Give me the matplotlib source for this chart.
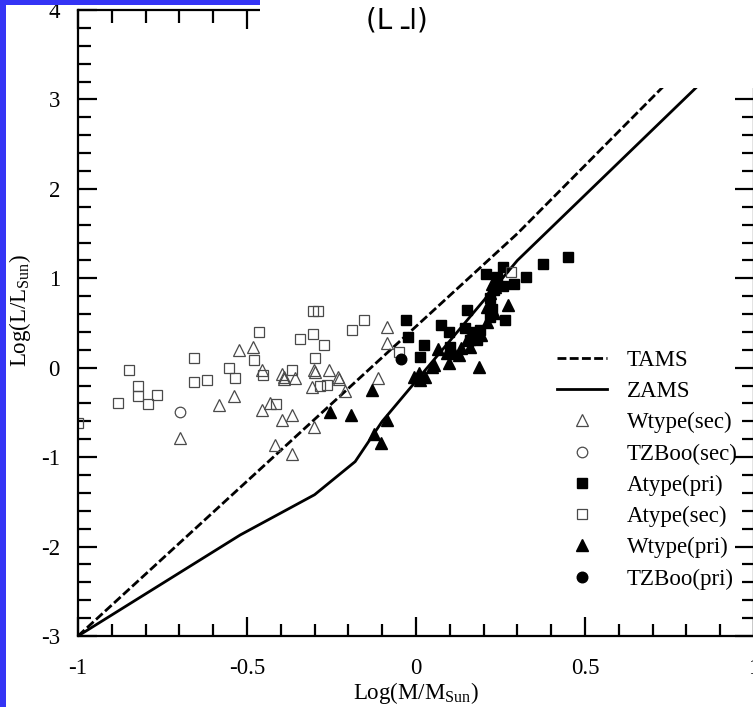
import matplotlib
matplotlib.use("Agg")
import matplotlib.pyplot as plt
from matplotlib.patches import Rectangle
from matplotlib.ticker import MultipleLocator

plt.rcParams['font.family'] = ['Liberation Serif', 'DejaVu Serif']
plt.rcParams['mathtext.fontset'] = 'custom'
plt.rcParams['mathtext.rm'] = 'Liberation Serif'

# evolutionary tracks
tams_x = [-1.0, 0.30, 0.72, 1.0]
tams_y = [-3.0, 1.50, 3.10, 4.16]
zams_x = [-1.0, -0.52, -0.30, -0.18, -0.10, 0.30, 0.82, 1.0]
zams_y = [-3.0, -1.87, -1.42, -1.05, -0.60, 1.20, 3.10, 3.77]

# Wtype secondaries
wsec_x = [-0.699, -0.582, -0.539, -0.523, -0.483, -0.457, -0.455, -0.433, -0.396, -0.391,
          -0.391, -0.395, -0.366, -0.418, -0.368, -0.357, -0.302, -0.299, -0.307, -0.302,
          -0.256, -0.231, -0.228, -0.209, -0.112, -0.087, -0.087]
wsec_y = [-0.79, -0.42, -0.32, 0.20, 0.23, -0.03, -0.47, -0.39, -0.07, -0.10,
          -0.13, -0.58, -0.53, -0.86, -0.97, -0.12, -0.02, -0.05, -0.22, -0.66,
          -0.03, -0.10, -0.13, -0.26, -0.12, 0.45, 0.28]

# TZBoo secondary
tzsec_x = [-0.699]
tzsec_y = [-0.49]

# Atype primaries
apri_x = [-0.031, -0.024, 0.011, 0.023, 0.075, 0.097, 0.102, 0.146, 0.151, 0.161,
          0.181, 0.170, 0.190, 0.208, 0.220, 0.220, 0.225, 0.230, 0.240, 0.257,
          0.257, 0.263, 0.291, 0.324, 0.376, 0.451]
apri_y = [0.53, 0.34, 0.12, 0.25, 0.48, 0.40, 0.23, 0.44, 0.65, 0.31,
          0.31, 0.40, 0.42, 1.05, 0.57, 0.78, 0.66, 0.87, 1.01, 0.91,
          1.13, 0.53, 0.94, 1.01, 1.16, 1.24]

# Atype secondaries
asec_x = [-1.0, -0.882, -0.850, -0.822, -0.822, -0.794, -0.767, -0.656, -0.656, -0.618,
          -0.553, -0.536, -0.480, -0.465, -0.453, -0.415, -0.366, -0.342, -0.304, -0.299,
          -0.305, -0.290, -0.273, -0.283, -0.263, -0.189, -0.154, -0.051, 0.280]
asec_y = [-0.62, -0.39, -0.02, -0.20, -0.32, -0.41, -0.31, 0.11, -0.16, -0.14,
          0.00, -0.12, 0.09, 0.40, -0.08, -0.41, -0.02, 0.32, 0.38, 0.11,
          0.63, 0.63, 0.25, -0.20, -0.19, 0.42, 0.53, 0.18, 1.07]

# Wtype primaries
wpri_x = [-0.253, -0.192, -0.131, -0.087, -0.125, -0.104, -0.007, 0.008, 0.013, 0.028,
          0.048, 0.053, 0.066, 0.092, 0.097, 0.112, 0.127, 0.132, 0.151, 0.161,
          0.171, 0.186, 0.193, 0.211, 0.211, 0.220, 0.225, 0.230, 0.235, 0.272]
wpri_y = [-0.50, -0.53, -0.25, -0.58, -0.74, -0.84, -0.10, -0.06, -0.14, -0.10,
          0.01, 0.03, 0.21, 0.16, 0.05, 0.16, 0.14, 0.22, 0.31, 0.23,
          0.35, 0.01, 0.37, 0.51, 0.68, 0.83, 0.94, 0.61, 0.90, 0.70]

# TZBoo primary
tzpri_x = [-0.043]
tzpri_y = [0.10]

W, H = 753, 707
fig = plt.figure(figsize=(W / 100, H / 100), dpi=100)
ax = fig.add_axes([78 / W, 1 - 636 / H, 676 / W, 626 / H])

gray = '#4a4a4a'
tams, = ax.plot(tams_x, tams_y, color='black', lw=2.0, label='TAMS')
tams.set_dashes((3.2, 1.2))
ax.plot(zams_x, zams_y, color='black', lw=2.0, label='ZAMS')
ax.plot(wsec_x, wsec_y, ls='none', marker='^', ms=8.4, mfc='none', mec=gray, mew=0.9,
        label='Wtype(sec)')
ax.plot(tzsec_x, tzsec_y, ls='none', marker='o', ms=7.6, mfc='none', mec=gray, mew=0.9,
        label='TZBoo(sec)')
ax.plot(apri_x, apri_y, ls='none', marker='s', ms=6.8, mfc='black', mec='black',
        label='Atype(pri)')
ax.plot(asec_x, asec_y, ls='none', marker='s', ms=7.2, mfc='none', mec=gray, mew=0.9,
        label='Atype(sec)')
ax.plot(wpri_x, wpri_y, ls='none', marker='^', ms=8.4, mfc='black', mec='black',
        label='Wtype(pri)')
ax.plot(tzpri_x, tzpri_y, ls='none', marker='o', ms=7.6, mfc='black', mec='black',
        label='TZBoo(pri)')

ax.set_xlim(-1, 1)
ax.set_ylim(-3, 4)
ax.xaxis.set_major_locator(MultipleLocator(0.5))
ax.xaxis.set_minor_locator(MultipleLocator(0.1))
ax.yaxis.set_major_locator(MultipleLocator(1))
ax.yaxis.set_minor_locator(MultipleLocator(0.2))
ax.xaxis.set_major_formatter(plt.FuncFormatter(lambda v, p: '%g' % v if abs(v) > 1e-9 else '0'))
ax.yaxis.set_major_formatter(plt.FuncFormatter(lambda v, p: '%d' % round(v)))
ax.tick_params(which='both', direction='in', top=True, right=True, width=1.6, labelsize=16.5)
ax.tick_params(which='major', length=14)
ax.tick_params(which='minor', length=9)
ax.tick_params(axis='x', pad=16)
ax.tick_params(axis='y', pad=13)
for s in ax.spines.values():
    s.set_linewidth(1.6)

ax.set_xlabel('Log(M/M$_{\\mathrm{Sun}}$)', fontsize=16.5)
ax.set_ylabel('Log(L/L$_{\\mathrm{Sun}}$)', fontsize=16.5)
ax.xaxis.set_label_coords(0.5, -0.071)
ax.yaxis.set_label_coords(-0.066, 0.52)

leg = ax.legend(loc='upper left', bbox_to_anchor=(0.708, 0.457), frameon=False,
                fontsize=16.5, handlelength=2.2, handletextpad=0.85, labelspacing=0.44,
                borderpad=0, borderaxespad=0)

# scan artefacts: white patch over the top right, blue border on the left/top
fig.add_artist(Rectangle((260 / W, 1 - 88 / H), 1 - 260 / W, 88 / H,
                         transform=fig.transFigure, facecolor='white', edgecolor='none',
                         zorder=10))
fig.add_artist(Rectangle((0, 0), 6 / W, 1, transform=fig.transFigure,
                         facecolor='#3434f5', edgecolor='none', zorder=11))
fig.add_artist(Rectangle((0, 1 - 5 / H), 260 / W, 5 / H, transform=fig.transFigure,
                         facecolor='#3434f5', edgecolor='none', zorder=11))
fig.text(397 / W, 1 - 21 / H, '(L ـا)', family=['DejaVu Sans'], fontsize=20,
         ha='center', va='center', zorder=12)

fig.savefig('out.png', dpi=100)
